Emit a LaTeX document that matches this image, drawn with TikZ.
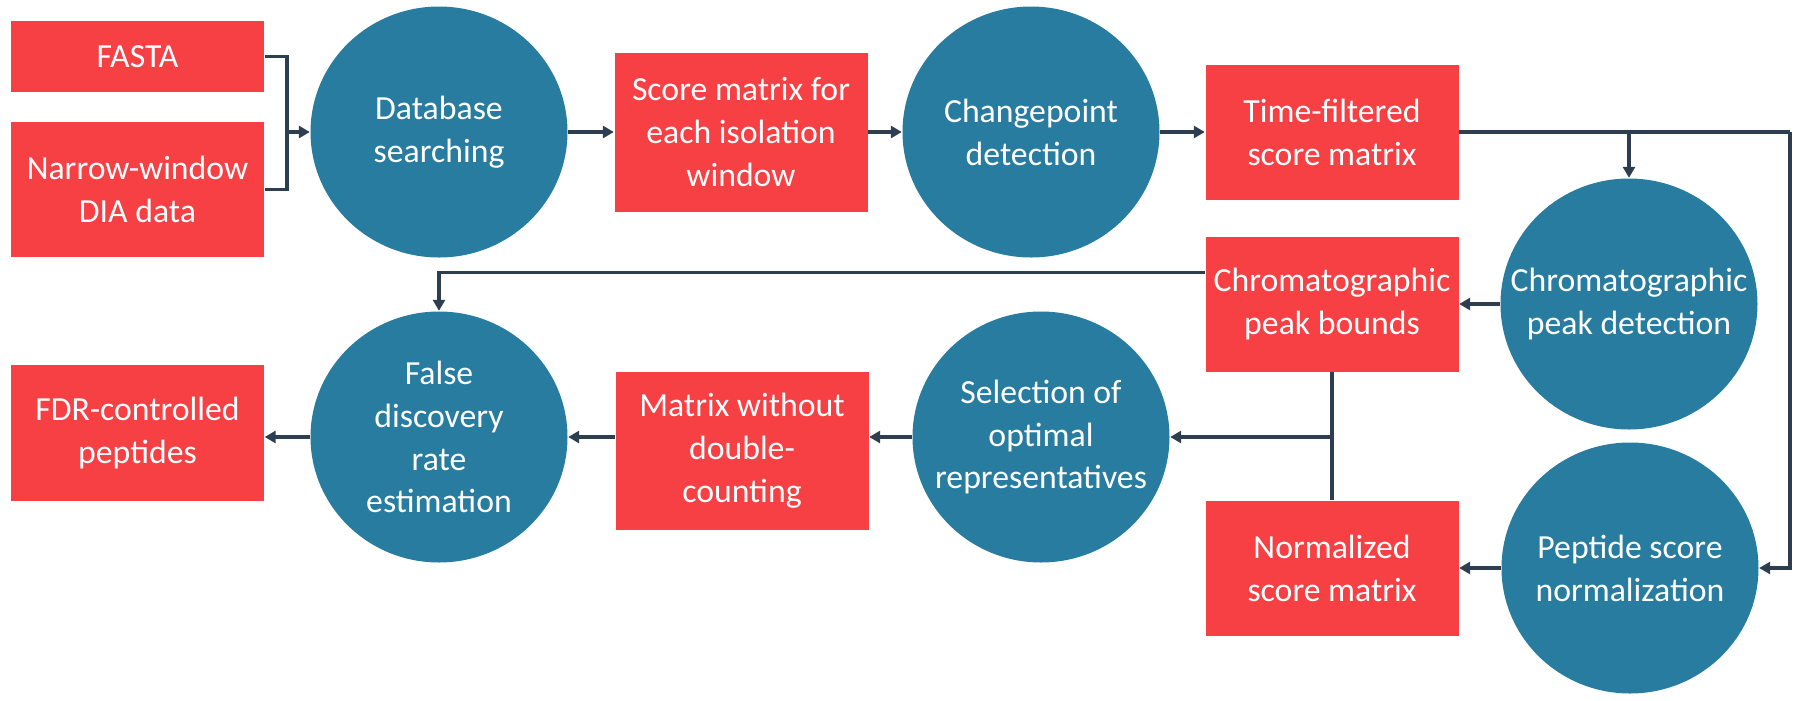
\documentclass[tikz,border=0pt]{standalone}
\usepackage{fontspec}
\setmainfont{Carlito}
\usepackage{xcolor}
\usetikzlibrary{shapes.geometric,arrows.meta,calc}
\definecolor{boxred}{HTML}{F64044}
\definecolor{ovalblue}{HTML}{287CA0}
\definecolor{linedark}{HTML}{2C3E50}

\begin{document}
\begin{tikzpicture}
        \tikzset{box/.append style={rectangle,
                    fill=boxred, text=white,
                    minimum width=2.53cm,
                    inner sep=0pt,
                    align=center, font=\fontsize{9.6}{12.2}\selectfont}}
        \tikzset{oval/.append style={ellipse,
                    fill=ovalblue,
                    minimum width=2.57cm,
                    minimum height=2.51cm,
                    inner sep=0pt}}
        \tikzset{otext/.append style={text=white, inner sep=0pt,
                    align=center, font=\fontsize{9.6}{12.2}\selectfont}}
        \tikzset{wire/.append style={draw=linedark, line width=0.9pt}}
        \tikzset{arr/.append style={wire, -{Triangle[length=1.1mm,width=1.2mm]}}}
        \useasboundingbox (0,0) rectangle (18,-7.01);

        % top row
        \node[box, minimum height=0.71cm] (fasta) at (1.375,-0.565) {FASTA};
        \node[box, minimum height=1.35cm] (dia) at (1.375,-1.895) {Narrow-window\\DIA data};
        \node[oval, label={[otext,name=dbt]center:Database\\searching}] (db) at (4.39,-1.32) {};
        \node[box, minimum height=1.59cm] (score) at (7.41,-1.32) {Score matrix for\\each isolation\\window};
        \node[oval, label={[otext,name=cpt]center:Changepoint\\detection}] (cp) at (10.31,-1.32) {};
        \node[box, minimum height=1.35cm] (tf) at (13.32,-1.32) {Time-filtered\\score matrix};

        % right side
        \node[oval, label={[otext,name=pdt]center:Chromatographic\\peak detection}] (pd) at (16.29,-3.04) {};
        \node[box, minimum height=1.35cm] (pb) at (13.32,-3.04) {Chromatographic\\peak bounds};
        \node[oval, label={[otext,name=pept]center:Peptide score\\normalization}] (pep) at (16.30,-5.68) {};
        \node[box, minimum height=1.35cm] (norm) at (13.32,-5.68) {Normalized\\score matrix};

        % bottom row
        \node[oval, label={[otext,name=selt]center:Selection of\\optimal\\representatives}] (sel) at (10.41,-4.37) {};
        \node[box, minimum height=1.58cm] (mat) at (7.42,-4.51) {Matrix without\\double-\\counting};
        \node[oval, label={[otext,name=fdet]center:False\\discovery\\rate\\estimation}] (fde) at (4.39,-4.37) {};
        \node[box, minimum height=1.36cm] (fdr) at (1.375,-4.33) {FDR-controlled\\peptides};

        % connectors
        \coordinate (jn) at (2.87,-1.32);
        \draw[wire] (fasta.east) -| (jn);
        \draw[wire] (dia.east) -| (jn);
        \draw[arr] (jn) -- (db.west);
        \draw[arr] (db.east) -- (score.west);
        \draw[arr] (score.east) -- (cp.west);
        \draw[arr] (cp.east) -- (tf.west);

        \coordinate (rt) at (17.9,-1.32);
        \draw[wire] (tf.east) -- (rt);
        \draw[arr] (rt) |- (pep.east);
        \draw[arr] (tf.east -| pd.north) -- (pd.north);
        \draw[arr] (pd.west) -- (pb.east);
        \draw[arr] (pep.west) -- (norm.east);

        \draw[arr] ($(pb.north west)!0.27!(pb.south west)$) -| (fde.north);
        \draw[wire] (pb.south) -- (norm.north);
        \coordinate (br) at (pb.south |- sel.east);
        \draw[arr] (br) -- (sel.east);
        \draw[arr] (sel.west) -- (sel.west -| mat.east);
        \draw[arr] (fde.east -| mat.west) -- (fde.east);
        \draw[arr] (fde.west) -- (fde.west -| fdr.east);
\end{tikzpicture}
\end{document}
